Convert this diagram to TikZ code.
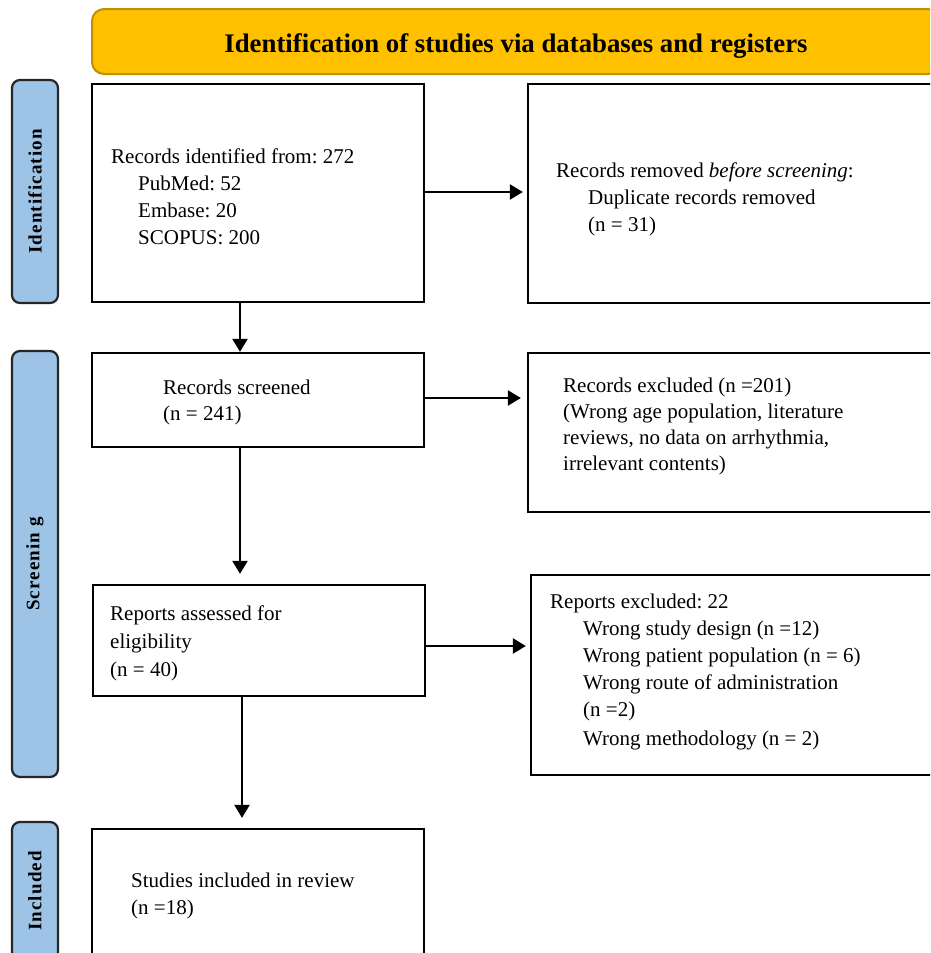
\documentclass[tikz,border=0pt]{standalone}
\usepackage{fontspec}
\setmainfont{Liberation Serif}
\newfontfamily\sidefont[LetterSpace=6]{Liberation Serif}
\usepackage{xcolor}
\usepackage{tikz}
\usetikzlibrary{positioning,arrows.meta,calc}

\definecolor{headgold}{HTML}{FFC000}
\definecolor{headedge}{HTML}{BF9000}
\definecolor{sideblue}{HTML}{9DC3E6}
\frenchspacing

\begin{document}
\begin{tikzpicture}[x=1pt, y=-1pt,
  head/.style={rectangle, draw=headedge, fill=headgold, line width=2pt, rounded corners=12pt, text height=21pt, text depth=0pt, font=\fontsize{26.8}{32}\selectfont\bfseries},
  side/.style={rectangle, draw=black!85, fill=sideblue, line width=2.2pt, rounded corners=8pt, rotate=90, inner sep=0pt, font=\sidefont\fontsize{19}{20}\selectfont\bfseries},
  box/.style={rectangle, draw, line width=2.3pt, inner sep=0pt},
  txt/.style={anchor=base west, align=left, inner sep=0pt, font=\fontsize{21}{27}\selectfont},
  arrow/.style={-{Triangle[length=13pt, width=15pt]}, line width=2.3pt}
]
  \useasboundingbox (0,0) rectangle (930,953);
  \clip (0,0) rectangle (930,953);

  \node[head, minimum width=848pt, minimum height=65pt] (head) at (516,41.5) {Identification of studies via databases and registers};

  % phase labels
  \node[side, minimum width=223pt, minimum height=46pt] (sideid) at (35,191.5) {Identification};
  \node[side, minimum width=426pt, minimum height=46pt] (sidescr) at (35,564) {Screenin g};
  \node[side, minimum width=138pt, minimum height=46pt] (sideinc) at (35,891) {Included};

  % boxes
  \node[box, minimum width=332pt, minimum height=218pt] (ident) at (258,193) {};
  \node[box, minimum width=432pt, minimum height=219pt] (removed) at (744,193.5) {};
  \node[box, minimum width=332pt, minimum height=94pt] (screened) at (258,400) {};
  \node[box, minimum width=432pt, minimum height=159pt] (excluded) at (744,432.5) {};
  \node[box, minimum width=332pt, minimum height=111pt] (assessed) at (259,640.5) {};
  \node[box, minimum width=429pt, minimum height=200pt] (rexcl) at (745.5,675) {};
  \node[box, minimum width=332pt, minimum height=151pt] (studies) at (258,904.5) {};

  % texts (anchored at the baseline of the last line)
  \node[txt] (identtxt) at (111,244) {Records identified from: 272\\\hspace*{27pt}PubMed: 52\\\hspace*{27pt}Embase: 20\\\hspace*{27pt}SCOPUS: 200};
  \node[txt] (removedtxt) at (556,231) {Records removed \textit{before screening}:\\\hspace*{32pt}Duplicate records removed\\\hspace*{32pt}(n = 31)};
  \node[txt, font=\fontsize{21}{26}\selectfont] (screenedtxt) at (163,420) {Records screened\\(n = 241)};
  \node[txt, font=\fontsize{21}{26}\selectfont] (excludedtxt) at (563,470) {Records excluded (n =201)\\(Wrong age population, literature\\reviews, no data on arrhythmia,\\irrelevant contents)};
  \node[txt, font=\fontsize{21}{28}\selectfont] (assessedtxt) at (110,676) {Reports assessed for\\eligibility\\(n = 40)};
  \node[txt] (rexcltxt) at (550,745) {Reports excluded: 22\\\hspace*{33pt}Wrong study design (n =12)\\\hspace*{33pt}Wrong patient population (n = 6)\\\hspace*{33pt}Wrong route of administration\\\hspace*{33pt}(n =2)\\[2pt]\hspace*{33pt}Wrong methodology (n = 2)};
  \node[txt] (studiestxt) at (131,914) {Studies included in review\\(n =18)};

  % arrows
  \draw[arrow, shorten >=4pt] ([yshift=1pt]ident.east) -- ([yshift=1pt]ident.east -| removed.west);
  \draw[arrow, shorten >=6pt] ([yshift=2pt]screened.east) -- ([yshift=2pt]screened.east -| excluded.west);
  \draw[arrow, shorten >=4pt] ([yshift=-5.5pt]assessed.east) -- ([yshift=-5.5pt]assessed.east -| rexcl.west);
  \draw[arrow] ([xshift=-18pt]ident.south) -- ([xshift=-18pt]ident.south |- screened.north);
  \draw[arrow, shorten >=10pt] ([xshift=-18pt]screened.south) -- ([xshift=-18pt]screened.south |- assessed.north);
  \draw[arrow, shorten >=10pt] ([xshift=-17pt]assessed.south) -- ([xshift=-17pt]assessed.south |- studies.north);
\end{tikzpicture}
\end{document}
